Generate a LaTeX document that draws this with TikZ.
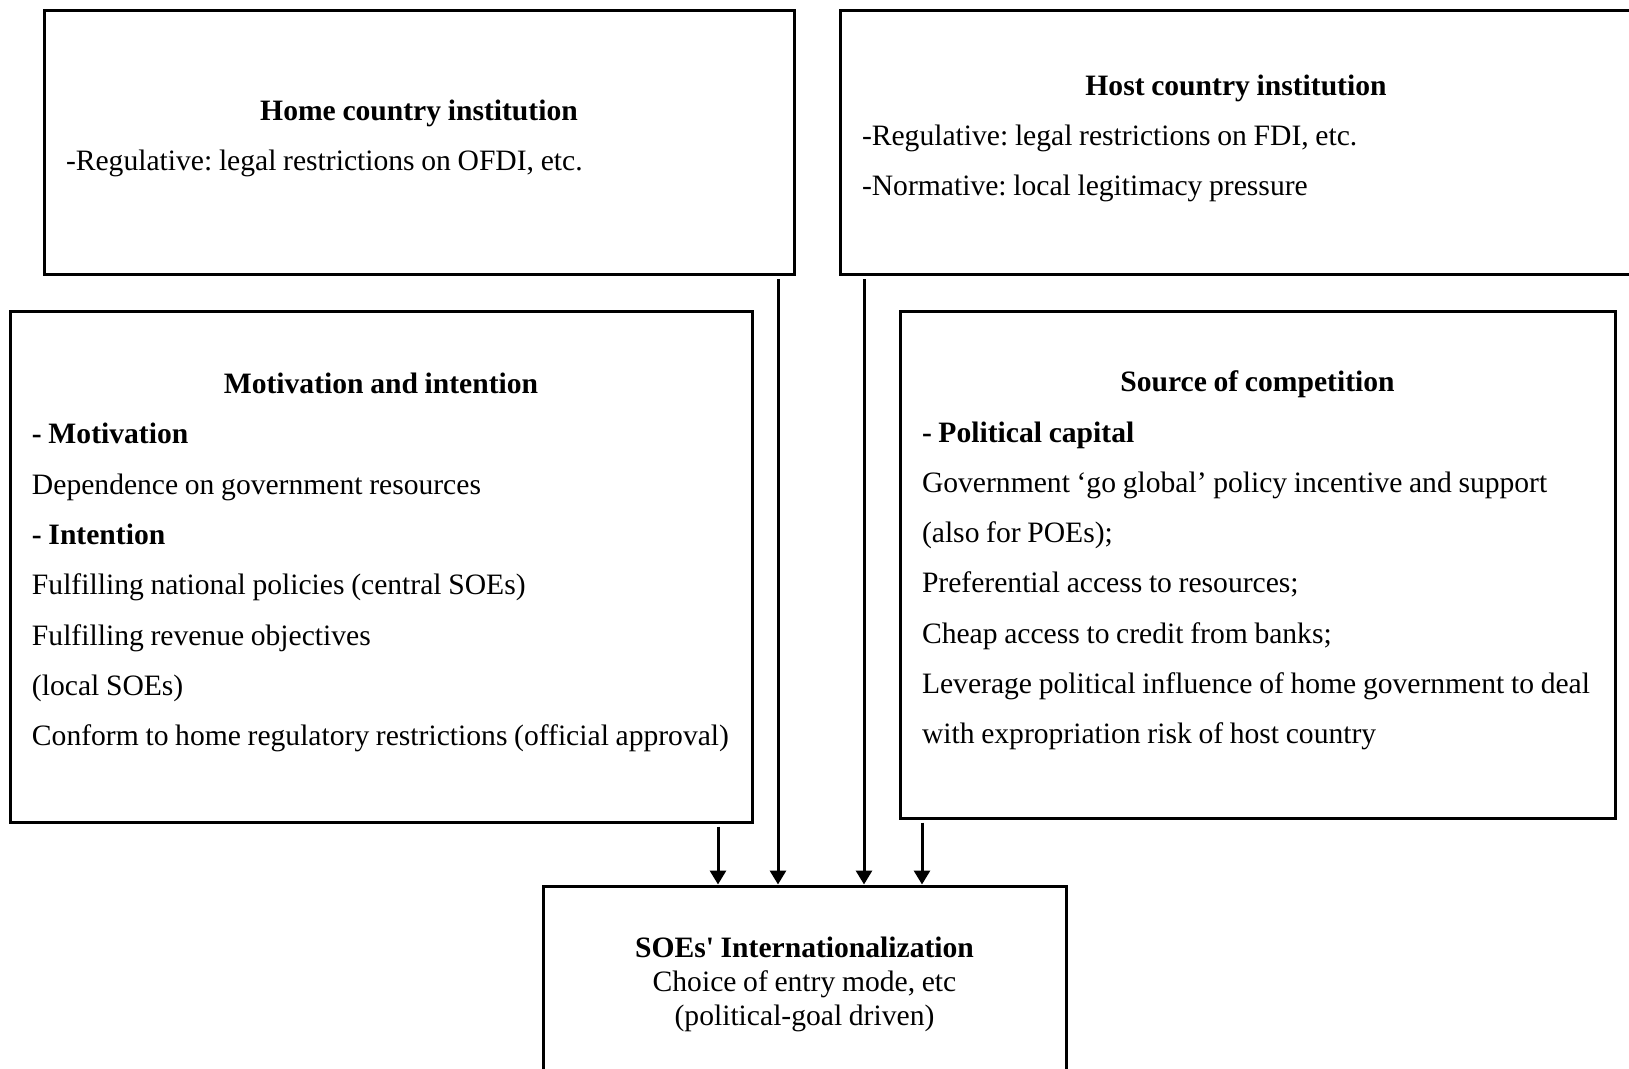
\documentclass[tikz,border=0pt]{standalone}
\usepackage{fontspec}
\setmainfont{Liberation Serif}[WordSpace=0.9]
\usetikzlibrary{arrows.meta}
\setlength{\parindent}{0pt}
\frenchspacing
\newcommand{\titulo}[1]{\makebox[\hsize][c]{\bfseries #1}}

\begin{document}
\begin{tikzpicture}[x=0.5pt, y=-0.5pt, >={Triangle[width=8pt,length=7pt]}, line width=1.5pt,
  caja/.style={draw, inner xsep=11pt, inner ysep=0pt, align=flush left,
    font=\fontsize{14.8}{25.15}\selectfont},
  fondo/.style={execute at end node={\rule[-#1]{0pt}{0pt}}}]
  \clip (0,0) rectangle (1629,1069);
  % instituciones del pais de origen y del pais receptor
  \node[caja, fondo=7.6pt, minimum width=375pt, minimum height=132pt, text width=353pt] (home) at (419,143)
    {\titulo{Home country institution}\\
     -Regulative: legal restrictions on OFDI, etc.};
  \node[caja, fondo=7.6pt, minimum width=396pt, minimum height=132pt, text width=374pt] (host) at (1236,143)
    {\titulo{Host country institution}\\
     -Regulative: legal restrictions on FDI, etc.\\
     -Normative: local legitimacy pressure};
  % motivacion y fuente de competencia
  \node[caja, fondo=7.6pt, minimum width=371pt, minimum height=255pt, text width=349pt] (motiv) at (381,567)
    {\titulo{Motivation and intention}\\
     \textbf{- Motivation}\\
     Dependence on government resources\\
     \textbf{- Intention}\\
     Fulfilling national policies (central SOEs)\\
     Fulfilling revenue objectives\\
     (local SOEs)\\
     \mbox{Conform to home regulatory restrictions (official approval)}};
  \node[caja, fondo=7.6pt, minimum width=357.5pt, minimum height=253pt, text width=335.5pt] (compet) at (1257.5,565)
    {\titulo{Source of competition}\\
     \textbf{- Political capital}\\
     Government ‘go global’ policy incentive and support\\
     (also for POEs);\\
     Preferential access to resources;\\
     Cheap access to credit from banks;\\
     \mbox{Leverage political influence of home government to deal}\\
     with expropriation risk of host country};
  % internacionalizacion de las SOEs
  \node[caja, fondo=5.7pt, align=flush center, font=\fontsize{14.8}{17}\selectfont, minimum width=261.5pt,
    minimum height=101pt, text width=239.5pt] (soe) at (804.5,987)
    {\textbf{SOEs\textquotesingle\ Internationalization}\\
     Choice of entry mode, etc\\
     (political-goal driven)};
  % flechas hacia la caja inferior
  \coordinate (f1) at (718,0);
  \coordinate (f2) at (778,0);
  \coordinate (f3) at (864,0);
  \coordinate (f4) at (922,0);
  \draw[->, shorten <=1.5pt] (motiv.south -| f1) -- (soe.north -| f1);
  \draw[->, shorten <=1.5pt] (home.south -| f2) -- (soe.north -| f2);
  \draw[->, shorten <=1.5pt] (host.south -| f3) -- (soe.north -| f3);
  \draw[->, shorten <=1.5pt] (compet.south -| f4) -- (soe.north -| f4);
\end{tikzpicture}
\end{document}
